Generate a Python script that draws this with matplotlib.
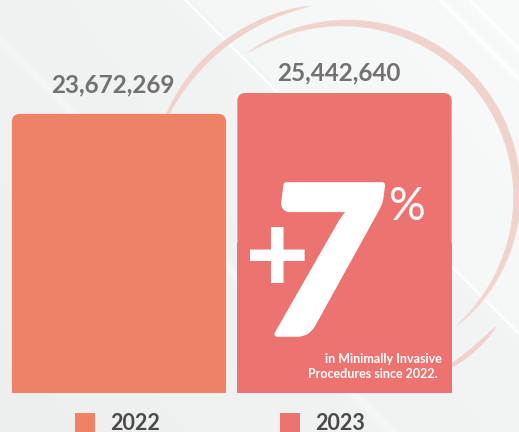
import numpy as np
import matplotlib
matplotlib.use('Agg')
import matplotlib.pyplot as plt
import matplotlib.patheffects as pe
from matplotlib.patches import FancyBboxPatch, Rectangle
from matplotlib.collections import LineCollection

# Data
years = ['2022', '2023']
procedures = [23672269, 25442640]
bar_colors = ['#ee8266', '#ed7370']
growth_pct = '7'
note_lines = ['in Minimally Invasive', 'Procedures since 2022.']

# Layout (pixels)
W, H, DPI = 519, 432, 100
BAR_STEP = 225.5          # px between bar centres
FIRST_CENTER = 119        # px
BASE_PX = 393             # baseline, from top
TOP_PX_MAX = 93           # top of tallest bar, from top
BAR_W = 0.95
FONT = 'Lato'

plt.rcParams['font.family'] = [FONT, 'DejaVu Sans']

fig = plt.figure(figsize=(W / DPI, H / DPI), dpi=DPI)

# ---- background (pixel axes, y up) ----
bg = fig.add_axes([0, 0, 1, 1])
bg.set_xlim(0, W)
bg.set_ylim(0, H)
bg.axis('off')

xx, yy = np.meshgrid(np.arange(W), np.arange(H))
d = xx - yy
shade = 0.935 + 0.02 * (xx / W) + 0.012 * (1 - yy / H)
shade += 0.012 / (1 + np.exp(-(d - 185) / 4.0))
for c, w, a in [(185, 1.5, 0.05), (440, 2.0, 0.05), (470, 2.0, 0.04), (-40, 6, 0.02)]:
    shade += a * np.exp(-((d - c) / w) ** 2)
shade = np.clip(shade, 0, 1)
img = np.dstack([shade * 0.995, shade, shade])
bg.imshow(img, extent=[0, W, 0, H], origin='upper', aspect='auto', zorder=0)


def ring(ax, cx, cy, r, t0, t1, lw_max, color, alpha):
    t = np.linspace(np.radians(t0), np.radians(t1), 200)
    x = cx + r * np.cos(t)
    y = cy + r * np.sin(t)
    pts = np.column_stack([x, y]).reshape(-1, 1, 2)
    segs = np.concatenate([pts[:-1], pts[1:]], axis=1)
    u = np.linspace(0, 1, len(segs))
    lws = 0.3 + lw_max * np.sin(np.pi * u) ** 0.6
    lc = LineCollection(segs, linewidths=lws, colors=color, alpha=alpha,
                        capstyle='round', zorder=1)
    ax.add_collection(lc)


ring(bg, 345, H - 195, 172, -50, 125, 6.0, '#f0d2ca', 0.6)
ring(bg, 345, H - 200, 197, 100, 160, 4.0, '#f0d2ca', 0.5)
ring(bg, 345, H - 200, 197, -62, -40, 3.0, '#f0d2ca', 0.45)

# ---- bars (data axes) ----
ax = fig.add_axes([0, 0, 1, 1])
ax.patch.set_alpha(0)
ax.axis('off')
x_left = -FIRST_CENTER / BAR_STEP
x_right = x_left + W / BAR_STEP
ax.set_xlim(x_left, x_right)
val_per_px = max(procedures) / (BASE_PX - TOP_PX_MAX)
ax.set_ylim(-(H - BASE_PX) * val_per_px, BASE_PX * val_per_px)

r_px = 8
xpos = np.arange(len(years))
for x, v, col in zip(xpos, procedures, bar_colors):
    box = FancyBboxPatch((x - BAR_W / 2, 0), BAR_W, v,
                         boxstyle=f'round,pad=0,rounding_size={r_px / BAR_STEP}',
                         mutation_aspect=val_per_px * BAR_STEP,
                         facecolor=col, edgecolor='none', zorder=2)
    ax.add_patch(box)
    ax.add_patch(Rectangle((x - BAR_W / 2, 0), BAR_W, v / 2,
                           facecolor=col, edgecolor='none', zorder=2))

label_offsets = [(-4.3, 15.1), (-4.3, 9.4)]
for x, v, off in zip(xpos, procedures, label_offsets):
    ax.annotate(f'{v:,}', xy=(x, v), xytext=off, textcoords='offset points',
                ha='center', va='baseline', fontsize=17.5, fontweight='bold',
                color='#727272', zorder=3)

# ---- overlay text (pixel axes, y up) ----
ov = fig.add_axes([0, 0, 1, 1])
ov.patch.set_alpha(0)
ov.axis('off')
ov.set_xlim(0, W)
ov.set_ylim(0, H)

ov.text(277, H - 292, '+', ha='center', va='baseline', fontsize=80,
        fontweight='black', color='white', zorder=4)
ov.text(323, H - 334, growth_pct, ha='center', va='baseline', fontsize=148,
        fontweight='black', fontstyle='italic', color='white', zorder=4,
        path_effects=[pe.withStroke(linewidth=4, foreground='white')])
ov.text(389, H - 220, '%', ha='left', va='baseline', fontsize=33,
        fontweight='normal', color='white', zorder=4)
for i, line in enumerate(note_lines):
    ov.text(442 - 4 * i, H - 363 - 14.5 * i, line, ha='right', va='baseline',
            fontsize=9, fontweight='bold', color='white', zorder=4)

# legend
legend_x = [75, 280]
for lx, yr, col in zip(legend_x, years, bar_colors):
    ov.add_patch(Rectangle((lx, H - 433), 20, 20, facecolor=col,
                           edgecolor='none', zorder=4))
    ov.text(lx + 35, H - 430, yr, ha='left', va='baseline', fontsize=15.5,
            fontweight='bold', color='#4a4a4a', zorder=4)

fig.savefig('out.png', dpi=DPI)
